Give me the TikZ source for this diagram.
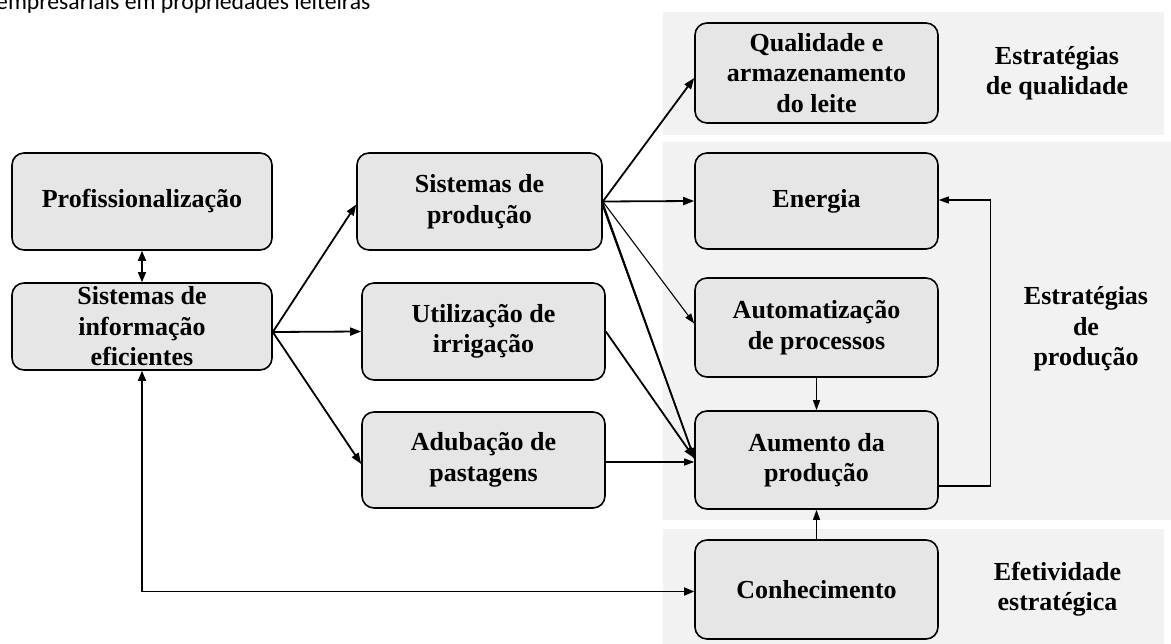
\documentclass[tikz,border=0pt]{standalone}
\usepackage{fontspec}
\setmainfont{Liberation Serif}
\newfontfamily\calibrifont{Carlito}
\usetikzlibrary{arrows.meta}
\definecolor{boxgray}{HTML}{E6E6E6}
\definecolor{panelgray}{HTML}{F2F2F2}
\tikzset{
  box/.style={draw, line width=1.6pt, rounded corners=12pt, fill=boxgray, align=center,
    font=\bfseries\fontsize{26}{30.5}\selectfont, inner sep=0pt, minimum width=243pt},
  lbl/.style={align=center, font=\bfseries\fontsize{26}{30.5}\selectfont, inner sep=0pt},
  arr/.style={line width=1.8pt, -{Triangle[length=11pt,width=8pt]}},
  arrthin/.style={line width=1.1pt, -{Triangle[length=10pt,width=7pt]}},
  arrboth/.style={line width=1.6pt, {Triangle[length=10pt,width=8pt]}-{Triangle[length=10pt,width=8pt]}},
}
\begin{document}
\begin{tikzpicture}[x=1pt,y=-1pt]
\useasboundingbox (0,0) rectangle (1171,644);
\clip (0,0) rectangle (1171,644);
% background panels
\fill[panelgray] (663,12) rectangle (1164,135);
\fill[panelgray] (663,142) rectangle (1171,520);
\fill[panelgray] (663,529) rectangle (1164,644);
% cut-off caption
\node[anchor=base west, inner sep=0pt, font=\calibrifont\fontsize{23.7}{28}\selectfont] (cap) at (-4,9.5) {empresariais em propriedades leiteiras};
% boxes
\node[box, minimum width=260pt, minimum height=97pt] (prof) at (142,201.5) {Profissionaliza\c{c}\~ao};
\node[box, minimum width=260pt, minimum height=87pt] (si) at (142,326.5) {Sistemas de\\informa\c{c}\~ao\\eficientes};
\node[box, minimum width=245pt, minimum height=97pt] (sp) at (479.5,201.5) {Sistemas de\\produ\c{c}\~ao};
\node[box, minimum height=97pt] (util) at (483.5,331.5) {Utiliza\c{c}\~ao de\\irriga\c{c}\~ao};
\node[box, minimum height=96pt] (adub) at (483.5,460) {Aduba\c{c}\~ao de\\pastagens};
\node[box, minimum height=100pt] (qual) at (816.5,73) {Qualidade e\\armazenamento\\do leite};
\node[box, minimum height=96pt] (energia) at (816.5,201) {Energia};
\node[box, minimum height=99pt] (auto) at (816.5,327.5) {Automatiza\c{c}\~ao\\de processos};
\node[box, minimum height=98pt] (aum) at (816.5,460) {Aumento da\\produ\c{c}\~ao};
\node[box, minimum height=99pt] (conh) at (816.5,589.5) {Conhecimento};
% side labels
\node[lbl] (lq) at (1057,73) {Estrat\'egias\\de qualidade};
\node[lbl] (lp) at (1086,329) {Estrat\'egias\\de\\produ\c{c}\~ao};
\node[lbl] (le) at (1057.5,589) {Efetividade\\estrat\'egica};
% connectors
\draw[arrboth] (prof.south) -- (si.north);
\draw[arr] ([yshift=-5.5pt]si.east) -- ([yshift=-3pt]sp.west);
\draw[arr] ([yshift=-5.5pt]si.east) -- (util.west);
\draw[arr] ([yshift=-5.5pt]si.east) -- ([yshift=-4pt]adub.west);
\draw[arr] (sp.east) -- ([yshift=-5pt]qual.west);
\draw[arr] (sp.east) -- (energia.west);
\draw[arrthin] (sp.east) -- ([yshift=4pt]auto.west);
\draw[line width=1.8pt] ([yshift=-2pt]sp.east) -- ([yshift=2pt]aum.west);
\draw[arrthin] ([yshift=-5pt]sp.east) -- ([yshift=2pt]aum.west);
\draw[arr] (util.east) -- ([yshift=2pt]aum.west);
\draw[arrthin] ([yshift=-2pt]adub.east) -- ([yshift=-2pt]aum.west);
\draw[arrthin] (auto.south) -- (aum.north);
\draw[arrthin] ([yshift=-26pt]aum.east) -- ++(52,0) |- ([yshift=1pt]energia.east);
\draw[arrthin] (conh.north) -- (aum.south);
\draw[line width=1.6pt, {Triangle[length=10pt,width=8pt]}-{Triangle[length=10pt,width=8pt]}] ([yshift=-2pt]conh.west) -| (si.south);
\end{tikzpicture}
\end{document}
